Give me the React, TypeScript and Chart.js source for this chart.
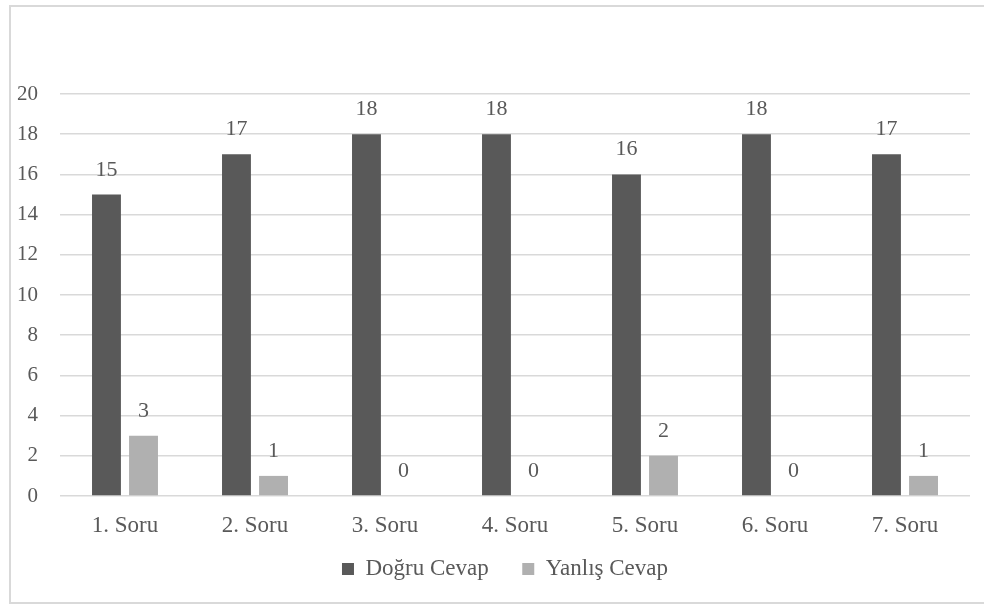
import React, { useEffect, useRef } from "react";
import { Chart, registerables } from "chart.js";

Chart.register(...registerables);

const categories = ["1. Soru", "2. Soru", "3. Soru", "4. Soru", "5. Soru", "6. Soru", "7. Soru"];
const dogruCevap = [15, 17, 18, 18, 16, 18, 17];
const yanlisCevap = [3, 1, 0, 0, 2, 0, 1];
const seriesNames = ["Doğru Cevap", "Yanlış Cevap"];
const yMin = 0;
const yMax = 20;
const yStep = 2;

const FONT = "'Liberation Serif', 'Times New Roman', serif";
const TEXT = "#595959";

const framePlugin = {
  id: "frame",
  beforeDraw(chart: any) {
    const ctx = chart.ctx;
    ctx.save();
    ctx.fillStyle = "#ffffff";
    ctx.fillRect(0, 0, chart.width, chart.height);
    ctx.strokeStyle = "#d9d9d9";
    ctx.lineWidth = 2;
    ctx.strokeRect(10, 6, 1000, 597);
    ctx.restore();
  },
};

const valueLabels = {
  id: "valueLabels",
  afterDatasetsDraw(chart: any) {
    const ctx = chart.ctx;
    ctx.save();
    ctx.font = `22px ${FONT}`;
    ctx.fillStyle = TEXT;
    ctx.textAlign = "center";
    ctx.textBaseline = "alphabetic";
    chart.data.datasets.forEach((ds: any, i: number) => {
      const meta = chart.getDatasetMeta(i);
      meta.data.forEach((el: any, j: number) => {
        ctx.fillText(String(ds.data[j]), el.x, el.y - 19);
      });
    });
    ctx.restore();
  },
};

export default function App() {
  const ref = useRef<HTMLCanvasElement>(null);
  useEffect(() => {
    if (!ref.current) return;
    const chart = new Chart(ref.current, {
      type: "bar",
      data: {
        labels: categories,
        datasets: [
          {
            label: seriesNames[0],
            data: dogruCevap,
            backgroundColor: "#595959",
            categoryPercentage: 0.57,
            barPercentage: 0.78,
          },
          {
            label: seriesNames[1],
            data: yanlisCevap,
            backgroundColor: "#b0b0b0",
            categoryPercentage: 0.57,
            barPercentage: 0.78,
          },
        ],
      },
      options: {
        animation: false,
        responsive: false,
        layout: { padding: { top: 94, left: 14, right: -12, bottom: 15.5 } },
        plugins: {
          legend: {
            position: "bottom",
            labels: {
              font: { family: FONT, size: 23 },
              color: TEXT,
              boxWidth: 12,
              boxHeight: 12,
              padding: 22,
              generateLabels(chart: any) {
                const items = Chart.defaults.plugins.legend.labels.generateLabels(chart);
                items.forEach((it: any, i: number) => {
                  if (i < items.length - 1) it.text = it.text + "  ";
                });
                return items;
              },
            },
          },
          tooltip: { enabled: false },
        },
        scales: {
          x: {
            grid: { display: false, drawTicks: false },
            border: { display: false },
            ticks: {
              font: { family: FONT, size: 23, lineHeight: 1.0 },
              color: TEXT,
              padding: 18.5,
            },
            afterFit(scale: any) {
              scale.height = 39.5;
            },
          },
          y: {
            min: yMin,
            max: yMax,
            grid: { color: "#d9d9d9", lineWidth: 1.5, drawTicks: false },
            border: { display: false },
            ticks: {
              stepSize: yStep,
              font: { family: FONT, size: 21 },
              color: TEXT,
              padding: 22,
            },
            afterFit(scale: any) {
              scale.width = 46;
            },
          },
          spacer: {
            type: "linear",
            position: "right",
            display: true,
            grid: { display: false, drawTicks: false },
            border: { display: false },
            ticks: { display: false },
            afterFit(scale: any) {
              scale.width = 26;
            },
          },
        },
      },
      plugins: [framePlugin, valueLabels],
    });
    return () => chart.destroy();
  }, []);
  return (
    <div style={{ position: "absolute", left: 0, top: 0, width: 984, height: 606 }}>
      <canvas ref={ref} width={984} height={606} />
    </div>
  );
}
